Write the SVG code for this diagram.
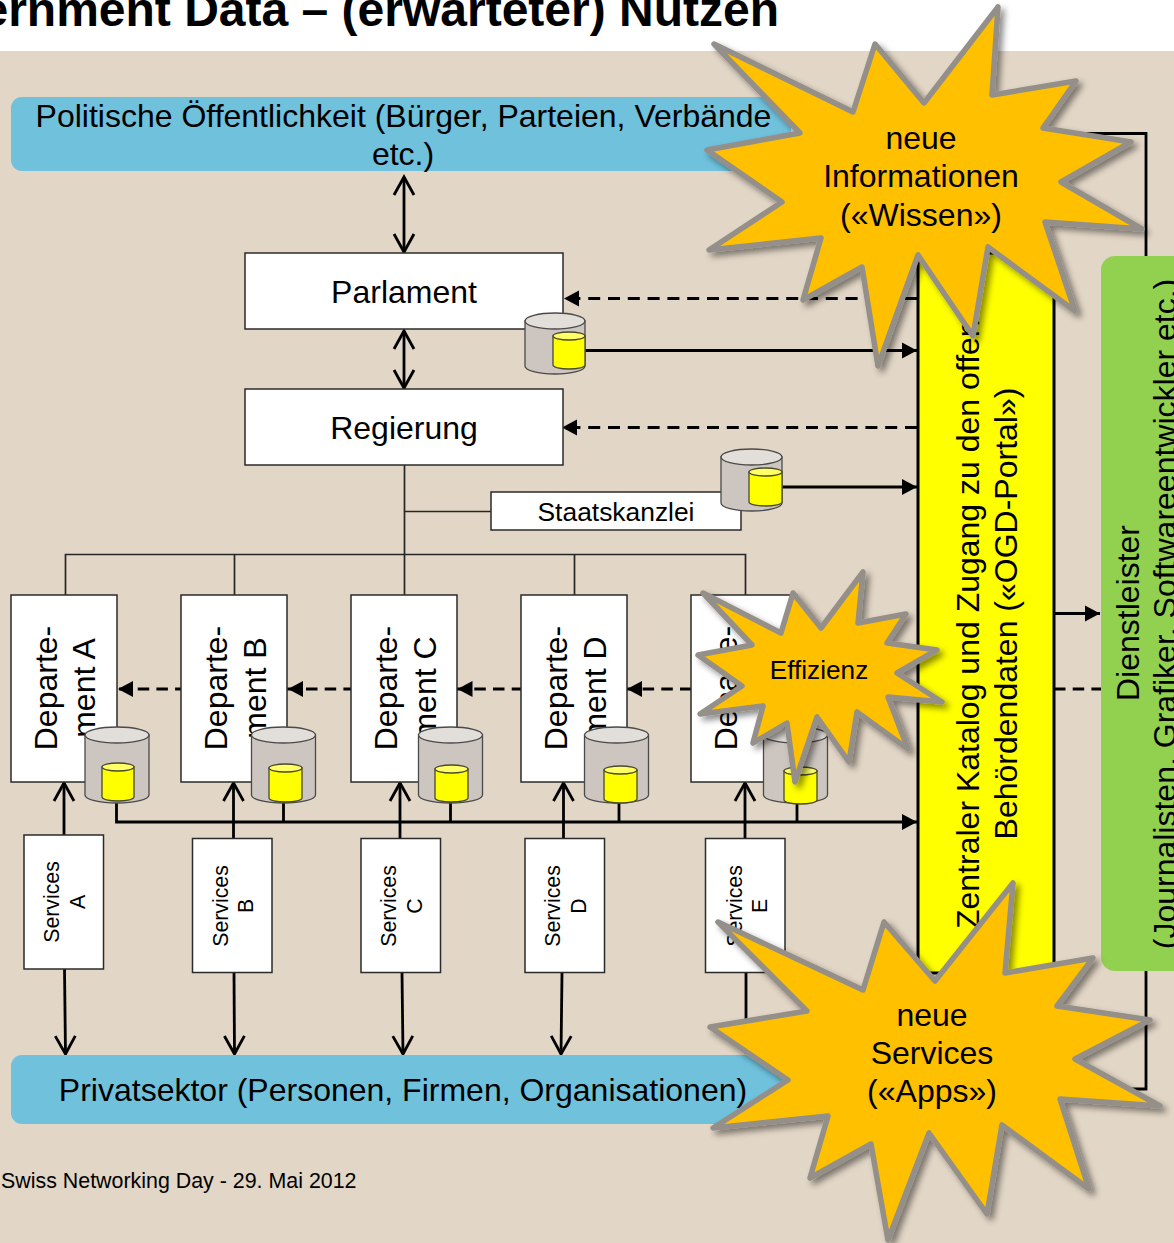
<svg xmlns="http://www.w3.org/2000/svg" width="1174" height="1243" viewBox="0 0 1174 1243">
<style>
text{font-family:"Liberation Sans",Arial,sans-serif;fill:#000}
.t32{font-size:32px}
.c{text-anchor:middle}
.svc{font-size:21.3px;text-anchor:middle}
.box{fill:#fff;stroke:#2b2b2b;stroke-width:1.5}
.blue{fill:#6FC1DC}
.org{fill:none;stroke:#262626;stroke-width:1.7}
.solid{fill:none;stroke:#000;stroke-width:2.8}
.dash{fill:none;stroke:#000;stroke-width:3;stroke-dasharray:11.5 7.2}
.dash2{fill:none;stroke:#000;stroke-width:3;stroke-dasharray:12 7.8}
.star{fill:#FFC000;stroke:#948F88;stroke-width:5.5;stroke-linejoin:round;filter:url(#sh)}
.cb{fill:#CDC5BF;stroke:#4a4a4a;stroke-width:1.3}
.ct{fill:#E2DED9;stroke:#4a4a4a;stroke-width:1.3}
.yb{fill:#FFFF00;stroke:#4a4a2a;stroke-width:1.3}
.yt{fill:#FFFF66;stroke:#4a4a2a;stroke-width:1.3}
</style>
<defs>
<filter id="sh" x="-15%" y="-15%" width="130%" height="130%"><feDropShadow dx="4" dy="4" stdDeviation="3" flood-color="#000" flood-opacity="0.45"/></filter>
<marker id="fa" markerUnits="userSpaceOnUse" markerWidth="18" markerHeight="18" refX="15" refY="8" orient="auto-start-reverse" overflow="visible"><path d="M0,0L15,8L0,16z" fill="#000"/></marker>
<marker id="oa" markerUnits="userSpaceOnUse" markerWidth="24" markerHeight="26" refX="20" refY="12" orient="auto-start-reverse" overflow="visible"><path d="M2,2L20,12L2,22" fill="none" stroke="#000" stroke-width="2.8"/></marker>
</defs>
<rect id="background" x="0" y="51" width="1174" height="1192" fill="#E2D6C6"/>
<text id="title" x="779" y="26" font-size="48" font-weight="700" text-anchor="end">ernment Data – (erwarteter) Nutzen</text>
<text id="footer" x="1" y="1188" font-size="21.400">Swiss Networking Day - 29. Mai 2012</text>

<g id="connectors">
<path class="org" d="M404.500,465V595M404.500,511.500H491M65.500,595V554.500H745.500V595M234.500,554.500V595M574.500,554.500V595"/>
<path class="solid" d="M404,177V252" marker-start="url(#oa)" marker-end="url(#oa)"/>
<path class="solid" d="M404,331V388" marker-start="url(#oa)" marker-end="url(#oa)"/>
<path class="dash2" d="M917,298.500H564" marker-end="url(#fa)"/>
<path class="dash2" d="M917,427.500H562" marker-end="url(#fa)"/>
<path class="solid" d="M585,350.500H917" marker-end="url(#fa)"/>
<path class="solid" d="M782,487H917" marker-end="url(#fa)"/>
<path class="dash" style="stroke-dashoffset:17.700" d="M118,689H1101" marker-start="url(#fa)"/>
<path d="M288,689L303,681V697zM457.500,689L472.500,681V697zM627,689L642,681V697z" fill="#000"/>
<path class="solid" d="M116.500,800V822H917" marker-end="url(#fa)"/>
<path class="solid" d="M283.500,800V822M450.500,800V822M619,800V822M797,800V822"/>
<path class="solid" d="M64,835V783" marker-end="url(#oa)"/>
<path class="solid" d="M233.500,838V783" marker-end="url(#oa)"/>
<path class="solid" d="M400,838V783" marker-end="url(#oa)"/>
<path class="solid" d="M563.500,838V783" marker-end="url(#oa)"/>
<path class="solid" d="M745,838V783" marker-end="url(#oa)"/>
<path class="solid" d="M64.500,969L65.500,1054" marker-end="url(#oa)"/>
<path class="solid" d="M234,973L234.500,1054" marker-end="url(#oa)"/>
<path class="solid" d="M402,973L403,1054" marker-end="url(#oa)"/>
<path class="solid" d="M562,973L561,1054" marker-end="url(#oa)"/>
<path class="solid" d="M746,973V1054"/>
<path class="solid" d="M1055,613.500H1100" marker-end="url(#fa)"/>
<path class="solid" d="M1040,133.500H1146V1089H1040"/>
</g>

<g id="politik"><rect class="blue" x="11" y="97" width="780" height="74" rx="11"/>
<text class="t32 c" x="403.500" y="127">Politische Öffentlichkeit (Bürger, Parteien, Verbände</text><text class="t32 c" x="403" y="165">etc.)</text></g>
<g id="privatsektor"><path class="blue" d="M22,1055H795V1118L752,1124H22a11,11 0 0 1 -11,-11V1066a11,11 0 0 1 11,-11z"/>
<text class="t32 c" x="403" y="1101">Privatsektor (Personen, Firmen, Organisationen)</text></g>
<g id="parlament"><rect class="box" x="245" y="253" width="318" height="76"/><text class="t32 c" x="404" y="303">Parlament</text></g>
<g id="regierung"><rect class="box" x="245" y="389" width="318" height="76"/><text class="t32 c" x="404" y="439">Regierung</text></g>
<g id="staatskanzlei"><rect class="box" x="491" y="492" width="250" height="38"/><text class="c" font-size="26.400" x="616" y="521">Staatskanzlei</text></g>

<g id="dept-a"><rect class="box" x="11" y="595" width="106" height="187"/><text class="t32 c" transform="translate(56.500,688) rotate(-90)">Departe-</text><text class="t32 c" transform="translate(95,688) rotate(-90)">ment A</text></g>
<g id="dept-b"><rect class="box" x="181" y="595" width="106" height="187"/><text class="t32 c" transform="translate(226.500,688) rotate(-90)">Departe-</text><text class="t32 c" transform="translate(265.500,688) rotate(-90)">ment B</text></g>
<g id="dept-c"><rect class="box" x="351" y="595" width="106" height="187"/><text class="t32 c" transform="translate(396.500,688) rotate(-90)">Departe-</text><text class="t32 c" transform="translate(436,688) rotate(-90)">ment C</text></g>
<g id="dept-d"><rect class="box" x="521" y="595" width="106" height="187"/><text class="t32 c" transform="translate(566.500,688) rotate(-90)">Departe-</text><text class="t32 c" transform="translate(606,688) rotate(-90)">ment D</text></g>
<g id="dept-e"><rect class="box" x="691" y="595" width="106" height="187"/><text class="t32 c" transform="translate(736.500,688) rotate(-90)">Departe-</text><text class="t32 c" transform="translate(775.500,688) rotate(-90)">ment E</text></g>

<g id="service-a"><rect class="box" x="24" y="835" width="79.500" height="134"/><text class="svc" transform="translate(59,902) rotate(-90)">Services</text><text class="svc" transform="translate(85,902) rotate(-90)">A</text></g>
<g id="service-b"><rect class="box" x="192.500" y="838.500" width="79.500" height="134"/><text class="svc" transform="translate(227.500,906) rotate(-90)">Services</text><text class="svc" transform="translate(253,906) rotate(-90)">B</text></g>
<g id="service-c"><rect class="box" x="361" y="838.500" width="79.500" height="134"/><text class="svc" transform="translate(396,906) rotate(-90)">Services</text><text class="svc" transform="translate(421.500,906) rotate(-90)">C</text></g>
<g id="service-d"><rect class="box" x="525" y="838.500" width="79.500" height="134"/><text class="svc" transform="translate(560,906) rotate(-90)">Services</text><text class="svc" transform="translate(586,906) rotate(-90)">D</text></g>
<g id="service-e"><rect class="box" x="705.500" y="838.500" width="79.500" height="134"/><text class="svc" transform="translate(741.500,906) rotate(-90)">Services</text><text class="svc" transform="translate(767,906) rotate(-90)">E</text></g>

<g id="db-parlament"><path class="cb" d="M525,321V366a30,8 0 0 0 60,0V321z"/><ellipse class="ct" cx="555" cy="321" rx="30" ry="8"/><path class="yb" d="M553,336V365a16,4 0 0 0 32,0V336z"/><ellipse class="yt" cx="569" cy="336" rx="16" ry="4"/></g>
<g id="db-staatskanzlei"><path class="cb" d="M721,457V503a30.500,8 0 0 0 61,0V457z"/><ellipse class="ct" cx="751.500" cy="457" rx="30.500" ry="8"/><path class="yb" d="M749,472V502a16.500,4 0 0 0 33,0V472z"/><ellipse class="yt" cx="765.500" cy="472" rx="16.500" ry="4"/></g>
<g id="db-a"><path class="cb" d="M85,735V795a32,8 0 0 0 64,0V735z"/><ellipse class="ct" cx="117" cy="735" rx="32" ry="8"/><path class="yb" d="M102,767V797a16,4 0 0 0 32,0V767z"/><ellipse class="yt" cx="118" cy="767" rx="16" ry="4"/></g>
<g id="db-b"><path class="cb" d="M251.500,735V795a32,8 0 0 0 64,0V735z"/><ellipse class="ct" cx="283.500" cy="735" rx="32" ry="8"/><path class="yb" d="M269,768V798a16.500,4 0 0 0 33,0V768z"/><ellipse class="yt" cx="285.500" cy="768" rx="16.500" ry="4"/></g>
<g id="db-c"><path class="cb" d="M418.500,735V795a32,8 0 0 0 64,0V735z"/><ellipse class="ct" cx="450.500" cy="735" rx="32" ry="8"/><path class="yb" d="M435,769V798a16.500,4 0 0 0 33,0V769z"/><ellipse class="yt" cx="451.500" cy="769" rx="16.500" ry="4"/></g>
<g id="db-d"><path class="cb" d="M584.500,735V795a32,8 0 0 0 64,0V735z"/><ellipse class="ct" cx="616.500" cy="735" rx="32" ry="8"/><path class="yb" d="M604,770V799a16.500,4 0 0 0 33,0V770z"/><ellipse class="yt" cx="620.500" cy="770" rx="16.500" ry="4"/></g>
<g id="db-e"><path class="cb" d="M763.500,735V795a32,8 0 0 0 64,0V735z"/><ellipse class="ct" cx="795.500" cy="735" rx="32" ry="8"/><path class="yb" d="M784,771V800a16.500,4 0 0 0 33,0V771z"/><ellipse class="yt" cx="800.500" cy="771" rx="16.500" ry="4"/></g>

<g id="portal"><rect x="918" y="253" width="136" height="720" fill="#FFFF00" stroke="#000" stroke-width="3"/>
<text class="t32" transform="translate(979,929) rotate(-90)">Zentraler Katalog und Zugang zu den offenen</text>
<text class="t32 c" transform="translate(1017,613.500) rotate(-90)">Behördendaten («OGD-Portal»)</text></g>
<g id="dienstleister"><rect x="1101" y="256" width="120" height="715" rx="14" fill="#92D050"/>
<text class="t32 c" transform="translate(1139,613) rotate(-90)">Dienstleister</text>
<text class="t32 c" transform="translate(1176,614) rotate(-90)">(Journalisten, Grafiker, Softwareentwickler etc.)</text></g>

<g id="star-wissen"><polygon class="star" points="714,44 853,112 875,44 924,103 998,7 992,95 1076,81 1043,128 1131,142 1061,182 1142,229 1045,222 1075,311 988,247 973,336 918,255 878,366 862,267 803,300 821,238 709,250 782,202 707,150 800,133"/>
<text class="t32 c" x="921" y="148.500">neue</text><text class="t32 c" x="921" y="187">Informationen</text><text class="t32 c" x="921" y="225.500">(«Wissen»)</text></g>
<g id="star-effizienz"><polygon class="star" points="703,593 781,633 793,593 821,628 863,572 858,623 906,614 887,643 937,650 897,673 942,702 888,697 908,749 857,712 849,762 817,717 795,782 787,723 753,743 763,706 700,714 742,686 698,655 752,645"/>
<text class="c" font-size="26.200" x="819" y="679">Effizienz</text></g>
<g id="star-apps"><polygon class="star" points="718,922 863,990 884,922 935,981 1013,883 1005,973 1093,958 1057,1006 1150,1020 1075,1059 1160,1106 1060,1099 1089,1189 1002,1125 987,1214 929,1133 888,1240 871,1144 810,1178 828,1116 713,1128 788,1080 710,1027 807,1011"/>
<text class="t32 c" x="932" y="1026">neue</text><text class="t32 c" x="932" y="1064">Services</text><text class="t32 c" x="932" y="1102">(«Apps»)</text></g>
</svg>
